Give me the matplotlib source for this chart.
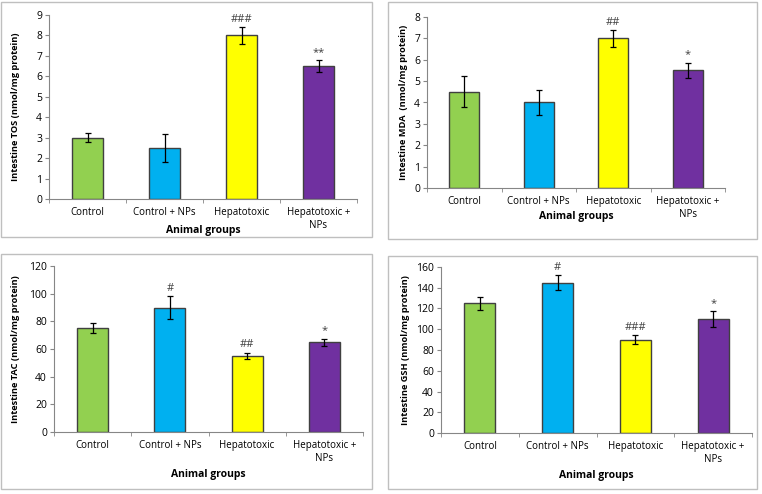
import numpy as np
import matplotlib
matplotlib.use('Agg')
import matplotlib.pyplot as plt
from matplotlib.patches import Rectangle

plt.rcParams['font.family'] = ['Open Sans', 'DejaVu Sans']

# 데이터
groups = ['Control', 'Control + NPs', 'Hepatotoxic', 'Hepatotoxic +\nNPs']
colors = ['#92D050', '#00B0F0', '#FFFF00', '#7030A0']

tos = [3.0, 2.5, 8.0, 6.5]
tos_err = [0.23, 0.7, 0.42, 0.3]
tos_sig = ['', '', '###', '**']

mda = [4.5, 4.0, 7.0, 5.5]
mda_err = [0.72, 0.6, 0.4, 0.36]
mda_sig = ['', '', '##', '*']

tac = [75, 90, 55, 65]
tac_err = [3.5, 8, 2, 2.5]
tac_sig = ['', '#', '##', '*']

gsh = [125, 145, 90, 110]
gsh_err = [6, 7, 4.5, 7.5]
gsh_sig = ['', '#', '###', '*']

W, H = 762, 494
fig = plt.figure(figsize=(W / 100, H / 100), dpi=100)

# 패널 테두리 (픽셀 좌표)
boxes = [(1, 2, 372, 237), (388, 2, 757, 239), (1, 254, 372, 489), (388, 256, 757, 489)]
for x0, y0, x1, y1 in boxes:
    fig.patches.append(Rectangle((x0 / W, 1 - y1 / H), (x1 - x0) / W, (y1 - y0) / H,
                                 transform=fig.transFigure, fill=False,
                                 edgecolor='#BFBFBF', linewidth=1.0))


def panel(px, vals, errs, sigs, ylabel, ymax, ystep, sig_off, ylab_x, xlab_y):
    x0, y0, x1, y1 = px  # 축 영역 (픽셀)
    ax = fig.add_axes([x0 / W, 1 - y1 / H, (x1 - x0) / W, (y1 - y0) / H])
    x = np.arange(len(vals))
    ax.bar(x, vals, width=0.4, color=colors, edgecolor='#404040', linewidth=1.0, zorder=2)
    ax.errorbar(x, vals, yerr=errs, fmt='none', ecolor='black', elinewidth=0.9,
                capsize=2.5, capthick=0.9, zorder=3)
    for i in range(len(vals)):
        if sigs[i]:
            ax.text(x[i], vals[i] + errs[i] + sig_off, sigs[i], ha='center', va='bottom',
                    fontsize=8, color='#404040')
    ax.set_xlim(-0.5, 3.5)
    ax.set_ylim(0, ymax)
    ax.set_yticks(np.arange(0, ymax + ystep / 2, ystep))
    ax.set_xticks(x)
    ax.set_xticklabels(groups, fontsize=7)
    ax.set_xticks(np.arange(-0.5, 4, 1), minor=True)
    ax.tick_params(axis='x', which='major', length=0, pad=6)
    ax.tick_params(axis='x', which='minor', length=3, color='#868686')
    ax.tick_params(axis='y', length=3, color='#868686', labelsize=7.5, pad=2)
    for s in ['top', 'right']:
        ax.spines[s].set_visible(False)
    for s in ['left', 'bottom']:
        ax.spines[s].set_color('#868686')
    # 축 제목은 그림 좌표로 직접 배치
    fig.text(ylab_x / W, 1 - (y0 + y1) / 2 / H, ylabel, rotation=90, ha='center', va='center',
             fontsize=6.7, fontweight='bold')
    fig.text((x0 + x1) / 2 / W, 1 - xlab_y / H, 'Animal groups', ha='center', va='center',
             fontsize=7.5, fontweight='bold')
    return ax


panel((49, 15, 357, 199), tos, tos_err, tos_sig, 'Intestine TOS (nmol/mg protein)', 9, 1, 0.1, 16, 230)
panel((427, 17, 725, 188), mda, mda_err, mda_sig, 'Intestine MDA  (nmol/mg protein)', 8, 1, 0.1, 403, 217)
panel((54, 266, 363, 432), tac, tac_err, tac_sig, 'Intestine TAC (nmol/mg protein)', 120, 20, 2, 16, 474)
panel((441, 267, 752, 433), gsh, gsh_err, gsh_sig, 'Intestine GSH (nmol/mg protein)', 160, 20, 2, 406, 475)

plt.savefig('out.png', dpi=100)
